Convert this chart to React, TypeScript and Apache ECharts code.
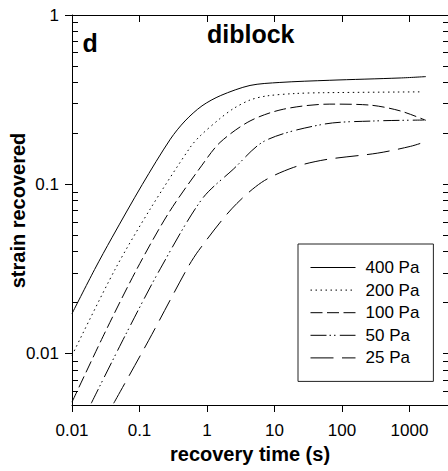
import React, { useEffect, useRef } from 'react';
import * as echarts from 'echarts';

const seriesNames = ['400 Pa', '200 Pa', '100 Pa', '50 Pa', '25 Pa'];

const time400 = [0.01, 0.0216, 0.039, 0.11, 0.286, 0.472, 0.843, 1.6, 4.34, 12, 66, 725, 1750];
const strain400 = [0.0173, 0.0315, 0.0485, 0.1, 0.185, 0.237, 0.291, 0.335, 0.384, 0.4, 0.412, 0.425, 0.433];

const time200 = [0.01, 0.0439, 0.1445, 0.566, 0.787, 1.56, 2.45, 4.34, 7.66, 20, 54, 1530];
const strain200 = [0.0098, 0.0318, 0.0718, 0.166, 0.193, 0.245, 0.28, 0.315, 0.333, 0.344, 0.348, 0.352];

const time100 = [0.01, 0.0311, 0.0918, 0.271, 0.843, 1.56, 4.34, 13.5, 66, 260, 723, 1750];
const strain100 = [0.0052, 0.0135, 0.0318, 0.068, 0.13, 0.177, 0.237, 0.278, 0.298, 0.294, 0.272, 0.239];

const time50 = [0.0193, 0.0617, 0.203, 0.843, 2.45, 7.23, 54, 300, 1650];
const strain50 = [0.00512, 0.0129, 0.0318, 0.082, 0.123, 0.181, 0.227, 0.237, 0.24];

const time25 = [0.0415, 0.137, 0.506, 0.753, 2.32, 6.46, 19, 56, 333, 1043, 1740];
const strain25 = [0.00512, 0.01205, 0.0318, 0.0408, 0.0718, 0.103, 0.126, 0.14, 0.153, 0.168, 0.179];

const yMajorTicks = [0.01, 0.1, 1];
const yMinorTicks = [0.006, 0.007, 0.008, 0.009, 0.02, 0.03, 0.04, 0.05, 0.06, 0.07, 0.08, 0.09, 0.2, 0.3, 0.4, 0.5, 0.6, 0.7, 0.8, 0.9];

const dashPatterns: (number[] | 'solid')[] = ['solid', [1.5, 3.5], [12, 4.5], [16, 3, 1.5, 3, 1.5, 4.3], [23, 8.5]];

const xTitle = 'recovery time (s)';
const yTitle = 'strain recovered';

const FONT = 'Liberation Sans, Arial, Helvetica, sans-serif';

function pow10Label(v: number): string {
  const e = Math.log10(v);
  const r = Math.round(e);
  if (Math.abs(e - r) > 1e-6) return '';
  return r < 0 ? Math.pow(10, r).toFixed(-r) : String(Math.pow(10, r));
}

function pairs(xs: number[], ys: number[]) {
  return xs.map((x, i) => [x, ys[i]]);
}

const GRID_LEFT = 72;
const GRID_TOP = 15;
const GRID_W = 377;
const GRID_H = 390;

export default function App() {
  const ref = useRef<HTMLDivElement>(null);
  useEffect(() => {
    if (!ref.current) return;
    const chart = echarts.init(ref.current, undefined, { renderer: 'svg' });
    const allData = [
      pairs(time400, strain400),
      pairs(time200, strain200),
      pairs(time100, strain100),
      pairs(time50, strain50),
      pairs(time25, strain25),
    ];
    const xMin = 0.01;
    const xMax = 3850;
    const lineSeries = seriesNames.map((name, i) => ({
      name,
      type: 'line',
      data: allData[i],
      xAxisIndex: 0,
      yAxisIndex: 0,
      symbol: 'none',
      showSymbol: false,
      smooth: 0.3,
      silent: true,
      lineStyle: { color: '#000', width: 1, type: dashPatterns[i] },
      itemStyle: { color: '#000' },
    }));
    chart.setOption({
      animation: false,
      backgroundColor: '#fff',
      textStyle: { fontFamily: FONT },
      grid: {
        left: GRID_LEFT,
        top: GRID_TOP,
        width: GRID_W,
        height: GRID_H,
        containLabel: false,
        outerBoundsMode: 'none',
      },
      xAxis: [
        {
          type: 'log',
          logBase: 10,
          min: xMin,
          max: xMax,
          position: 'bottom',
          axisLine: { show: true, lineStyle: { color: '#000', width: 1 } },
          axisTick: { show: true, inside: false, length: 7, lineStyle: { color: '#000', width: 1 } },
          axisLabel: {
            show: true,
            margin: 17,
            color: '#000',
            fontSize: 17,
            fontFamily: FONT,
            showMaxLabel: false,
            formatter: (v: number) => pow10Label(v),
          },
          splitLine: { show: false },
          name: xTitle,
          nameLocation: 'middle',
          nameGap: 35,
          nameTextStyle: { fontSize: 20, fontWeight: 'bold', color: '#000', fontFamily: FONT, padding: [0, 21, 0, 0] },
        },
        {
          type: 'log',
          logBase: 10,
          min: xMin,
          max: xMax,
          position: 'top',
          axisLine: { show: true, lineStyle: { color: '#000', width: 1 } },
          axisTick: { show: true, inside: true, length: 7, lineStyle: { color: '#000', width: 1 } },
          axisLabel: { show: false },
          splitLine: { show: false },
        },
      ],
      yAxis: [
        {
          type: 'log',
          logBase: 10,
          min: 0.005,
          max: 1,
          axisLine: { show: true, lineStyle: { color: '#000', width: 1 } },
          axisTick: { show: false },
          axisLabel: {
            show: true,
            margin: 13,
            color: '#000',
            fontSize: 17,
            fontFamily: FONT,
            formatter: (v: number) => pow10Label(v),
          },
          splitLine: { show: false },
        },
      ],
      legend: {
        data: seriesNames,
        orient: 'vertical',
        left: 298,
        top: 244,
        itemWidth: 45,
        itemHeight: 14,
        itemGap: 5.6,
        padding: [15, 14, 15, 12],
        borderColor: '#222',
        borderWidth: 1,
        selectedMode: false,
        itemStyle: { opacity: 0 },
        lineStyle: { width: 1 },
        textStyle: { fontSize: 17, color: '#000', fontFamily: FONT, padding: [0, 0, 0, 5] },
      },
      series: lineSeries,
    });

    // y-axis tick marks (major outward on the left, minor inward, inward on the right)
    const L = GRID_LEFT;
    const R = GRID_LEFT + GRID_W;
    const tickStyle = { stroke: '#000', lineWidth: 1 };
    const tickEls: any[] = [];
    const addTicks = (vals: number[], major: boolean) => {
      vals.forEach((v) => {
        const py = chart.convertToPixel({ yAxisIndex: 0 }, v) as number;
        const y = Math.round(py - 0.5) + 0.5;
        tickEls.push({
          type: 'line',
          silent: true,
          z: 10,
          shape: major ? { x1: L - 7, y1: y, x2: L, y2: y } : { x1: L, y1: y, x2: L + 6, y2: y },
          style: tickStyle,
        });
        tickEls.push({
          type: 'line',
          silent: true,
          z: 10,
          shape: { x1: R - 6, y1: y, x2: R, y2: y },
          style: tickStyle,
        });
      });
    };
    addTicks(yMajorTicks, true);
    addTicks(yMinorTicks, false);

    chart.setOption({
      graphic: [
        {
          type: 'text',
          x: 82.5,
          y: 42.5,
          z: 10,
          style: { text: 'd', font: `bold 25px ${FONT}`, fill: '#000', align: 'left', verticalAlign: 'middle', textAlign: 'left', textVerticalAlign: 'middle' },
        },
        {
          type: 'text',
          x: 207,
          y: 34.2,
          z: 10,
          style: { text: 'diblock', font: `bold 25px ${FONT}`, fill: '#000', align: 'left', verticalAlign: 'middle', textAlign: 'left', textVerticalAlign: 'middle' },
        },
        {
          type: 'text',
          x: 18,
          y: 210.5,
          rotation: Math.PI / 2,
          z: 10,
          style: { text: yTitle, font: `bold 20px ${FONT}`, fill: '#000', align: 'center', verticalAlign: 'middle', textAlign: 'center', textVerticalAlign: 'middle' },
        },
        ...tickEls,
      ],
    });
    return () => chart.dispose();
  }, []);
  return <div ref={ref} style={{ position: 'fixed', left: 0, top: 0, width: 448, height: 471 }} />;
}
